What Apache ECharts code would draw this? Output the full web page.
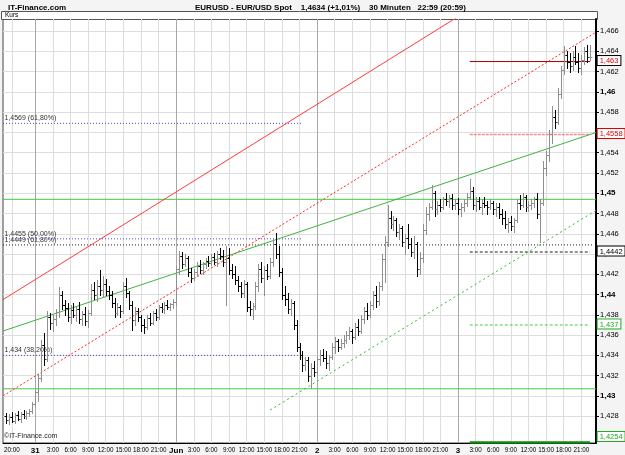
<!DOCTYPE html>
<html lang="de">
<head>
<meta charset="UTF-8">
<title>EURUSD 30 Minuten</title>
<script src="https://cdn.jsdelivr.net/npm/echarts@6/dist/echarts.min.js"></script>
<style>
    html, body { margin: 0; padding: 0; background: #f4f4f4; }
    #chart { width: 625px; height: 455px; }
</style>
</head>
<body>
<div id="chart"></div>
<script>
// 30-Minuten-Bars, Slot 0 = 30.05. 18:30, letzter Slot = 03.06. 23:30
var firstBar = 1;

var open = [
    1.4280,1.4276,1.4279,1.4275,1.4281,1.4277,1.4282,1.4280,1.4283,1.4285,
    1.4292,1.4304,1.4318,1.4350,1.4336,1.4378,1.4372,1.4376,1.4383,1.4400,
    1.4390,1.4387,1.4378,1.4385,1.4380,1.4386,1.4376,1.4381,1.4374,1.4382,
    1.4405,1.4400,1.4408,1.4405,1.4410,1.4404,1.4400,1.4392,1.4382,1.4388,
    1.4384,1.4408,1.4402,1.4390,1.4375,1.4384,1.4378,1.4370,1.4368,1.4377,
    1.4372,1.4382,1.4378,1.4388,1.4386,1.4390,1.4388,1.4391,1.4393,1.4425,
    1.4438,1.4430,1.4436,1.4422,1.4416,1.4422,1.4428,1.4424,1.4430,1.4433,
    1.4431,1.4437,1.4432,1.4440,1.4438,1.4432,1.4436,1.4424,1.4420,1.4414,
    1.4408,1.4402,1.4410,1.4388,1.4386,1.4389,1.4408,1.4425,1.4416,1.4424,
    1.4418,1.4432,1.4450,1.4440,1.4422,1.4400,1.4396,1.4386,1.4392,1.4370,
    1.4348,1.4340,1.4330,1.4335,1.4320,1.4328,1.4324,1.4336,1.4340,1.4337,
    1.4332,1.4338,1.4348,1.4354,1.4348,1.4352,1.4355,1.4360,1.4364,1.4358,
    1.4368,1.4364,1.4376,1.4384,1.4380,1.4390,1.4400,1.4394,1.4408,1.4435,
    1.4452,1.4476,1.4470,1.4474,1.4462,1.4466,1.4452,1.4456,1.4450,1.4442,
    1.4450,1.4425,1.4436,1.4464,1.4480,1.4486,1.4500,1.4484,1.4488,1.4486,
    1.4494,1.4492,1.4495,1.4488,1.4490,1.4484,1.4486,1.4490,1.4496,1.4502,
    1.4488,1.4492,1.4486,1.4490,1.4488,1.4486,1.4490,1.4484,1.4486,1.4480,
    1.4476,1.4470,1.4472,1.4468,1.4474,1.4490,1.4488,1.4496,1.4486,1.4488,
    1.4490,1.4494,1.4480,1.4490,1.4525,1.4538,1.4558,1.4575,1.4570,1.4598,
    1.4622,1.4636,1.4630,1.4626,1.4634,1.4630,1.4624,1.4632,1.4640,1.4634
];
var high = [
    1.4283,1.4282,1.4284,1.4283,1.4285,1.4284,1.4286,1.4285,1.4287,1.4294,
    1.4306,1.4322,1.4355,1.4362,1.4384,1.4382,1.4380,1.4386,1.4407,1.4404,
    1.4395,1.4392,1.4390,1.4392,1.4388,1.4393,1.4384,1.4388,1.4385,1.4410,
    1.4412,1.4414,1.4424,1.4418,1.4415,1.4408,1.4404,1.4397,1.4392,1.4390,
    1.4412,1.4416,1.4404,1.4394,1.4388,1.4387,1.4380,1.4376,1.4380,1.4382,
    1.4384,1.4386,1.4390,1.4392,1.4393,1.4395,1.4392,1.4396,1.4428,1.4443,
    1.4442,1.4440,1.4438,1.4426,1.4425,1.4432,1.4434,1.4432,1.4436,1.4438,
    1.4440,1.4441,1.4443,1.4446,1.4444,1.4448,1.4446,1.4430,1.4428,1.4418,
    1.4412,1.4414,1.4412,1.4394,1.4392,1.4412,1.4430,1.4432,1.4428,1.4430,
    1.4436,1.4455,1.4461,1.4448,1.4426,1.4408,1.4402,1.4396,1.4394,1.4375,
    1.4352,1.4344,1.4338,1.4338,1.4332,1.4334,1.4338,1.4345,1.4346,1.4344,
    1.4340,1.4352,1.4358,1.4356,1.4356,1.4360,1.4364,1.4368,1.4366,1.4372,
    1.4376,1.4380,1.4388,1.4392,1.4394,1.4404,1.4408,1.4412,1.4440,1.4458,
    1.4488,1.4482,1.4478,1.4476,1.4470,1.4468,1.4460,1.4470,1.4456,1.4458,
    1.4452,1.4442,1.4470,1.4486,1.4490,1.4508,1.4502,1.4492,1.4494,1.4496,
    1.4500,1.4498,1.4499,1.4494,1.4495,1.4490,1.4494,1.4500,1.4514,1.4506,
    1.4496,1.4496,1.4494,1.4496,1.4492,1.4494,1.4492,1.4490,1.4490,1.4484,
    1.4482,1.4476,1.4478,1.4476,1.4494,1.4498,1.4500,1.4498,1.4492,1.4494,
    1.4496,1.4500,1.4494,1.4532,1.4542,1.4562,1.4586,1.4582,1.4604,1.4626,
    1.4645,1.4640,1.4638,1.4640,1.4645,1.4638,1.4636,1.4644,1.4646,1.4646
];
var low = [
    1.4273,1.4272,1.4274,1.4273,1.4276,1.4274,1.4278,1.4277,1.4280,1.4283,
    1.4290,1.4295,1.4315,1.4330,1.4334,1.4366,1.4364,1.4370,1.4378,1.4386,
    1.4380,1.4374,1.4372,1.4378,1.4374,1.4372,1.4370,1.4370,1.4368,1.4380,
    1.4396,1.4394,1.4400,1.4398,1.4400,1.4396,1.4388,1.4378,1.4380,1.4378,
    1.4382,1.4398,1.4386,1.4365,1.4370,1.4374,1.4364,1.4362,1.4366,1.4370,
    1.4371,1.4375,1.4376,1.4383,1.4382,1.4386,1.4385,1.4387,1.4390,1.4420,
    1.4426,1.4428,1.4418,1.4412,1.4414,1.4418,1.4421,1.4420,1.4426,1.4428,
    1.4429,1.4430,1.4428,1.4435,1.4428,1.4390,1.4420,1.4416,1.4410,1.4404,
    1.4398,1.4398,1.4384,1.4380,1.4376,1.4386,1.4404,1.4412,1.4400,1.4415,
    1.4416,1.4428,1.4436,1.4418,1.4396,1.4390,1.4382,1.4380,1.4366,1.4344,
    1.4336,1.4325,1.4326,1.4315,1.4308,1.4320,1.4322,1.4330,1.4334,1.4328,
    1.4326,1.4336,1.4342,1.4344,1.4346,1.4348,1.4352,1.4356,1.4352,1.4356,
    1.4360,1.4362,1.4372,1.4376,1.4378,1.4386,1.4388,1.4390,1.4405,1.4412,
    1.4448,1.4466,1.4464,1.4458,1.4455,1.4448,1.4440,1.4446,1.4438,1.4436,
    1.4418,1.4420,1.4432,1.4460,1.4474,1.4484,1.4478,1.4480,1.4482,1.4484,
    1.4488,1.4486,1.4484,1.4484,1.4480,1.4478,1.4482,1.4487,1.4494,1.4484,
    1.4482,1.4484,1.4480,1.4486,1.4480,1.4484,1.4480,1.4478,1.4476,1.4470,
    1.4466,1.4462,1.4464,1.4462,1.4472,1.4484,1.4486,1.4482,1.4482,1.4484,
    1.4486,1.4476,1.4452,1.4488,1.4518,1.4532,1.4550,1.4564,1.4568,1.4594,
    1.4618,1.4624,1.4620,1.4622,1.4628,1.4620,1.4618,1.4628,1.4630,1.4632
];
var close = [
    1.4276,1.4279,1.4275,1.4281,1.4277,1.4282,1.4280,1.4283,1.4285,1.4292,
    1.4304,1.4318,1.4350,1.4336,1.4378,1.4372,1.4376,1.4383,1.4400,1.4390,
    1.4387,1.4378,1.4385,1.4380,1.4386,1.4376,1.4381,1.4374,1.4382,1.4405,
    1.4400,1.4408,1.4405,1.4410,1.4404,1.4400,1.4392,1.4382,1.4388,1.4384,
    1.4408,1.4402,1.4390,1.4375,1.4384,1.4378,1.4370,1.4368,1.4377,1.4372,
    1.4382,1.4378,1.4388,1.4386,1.4390,1.4388,1.4391,1.4393,1.4425,1.4438,
    1.4430,1.4436,1.4422,1.4416,1.4422,1.4428,1.4424,1.4430,1.4433,1.4431,
    1.4437,1.4432,1.4440,1.4438,1.4432,1.4436,1.4424,1.4420,1.4414,1.4408,
    1.4402,1.4410,1.4388,1.4386,1.4389,1.4408,1.4425,1.4416,1.4424,1.4418,
    1.4432,1.4450,1.4440,1.4422,1.4400,1.4396,1.4386,1.4392,1.4370,1.4348,
    1.4340,1.4330,1.4335,1.4320,1.4328,1.4324,1.4336,1.4340,1.4337,1.4332,
    1.4338,1.4348,1.4354,1.4348,1.4352,1.4355,1.4360,1.4364,1.4358,1.4368,
    1.4364,1.4376,1.4384,1.4380,1.4390,1.4400,1.4394,1.4408,1.4435,1.4452,
    1.4476,1.4470,1.4474,1.4462,1.4466,1.4452,1.4456,1.4450,1.4442,1.4450,
    1.4425,1.4436,1.4464,1.4480,1.4486,1.4500,1.4484,1.4488,1.4486,1.4494,
    1.4492,1.4495,1.4488,1.4490,1.4484,1.4486,1.4490,1.4496,1.4502,1.4488,
    1.4492,1.4486,1.4490,1.4488,1.4486,1.4490,1.4484,1.4486,1.4480,1.4476,
    1.4470,1.4472,1.4468,1.4474,1.4490,1.4488,1.4496,1.4486,1.4488,1.4490,
    1.4494,1.4480,1.4490,1.4525,1.4538,1.4558,1.4575,1.4570,1.4598,1.4622,
    1.4636,1.4630,1.4626,1.4634,1.4630,1.4624,1.4632,1.4640,1.4634,1.4634
];

// y-Achse
var yTicks = [1.428, 1.430, 1.432, 1.434, 1.436, 1.438, 1.440, 1.442, 1.444, 1.446,
              1.448, 1.450, 1.452, 1.454, 1.456, 1.458, 1.460, 1.462, 1.464, 1.466];

// Trendlinien [slot, kurs]
var redChannelTop = [[0, 1.4395], [202, 1.4759]];
var redChannelMid = [[0, 1.4300], [202, 1.4659]];
var greenTrend = [[0, 1.4364], [202, 1.4560]];
var greenChannelLow = [[91, 1.4286], [202, 1.4483]];

// horizontale Linien
var greenLevels = [1.4494, 1.4307];
var fibLevels = [
    {v: 1.4569, text: '1,4569 (61,80%)', end: 102, color: '#4848d8'},
    {v: 1.4455, text: '1,4455 (50,00%)', end: 102, color: '#4848d8'},
    {v: 1.4449, text: '1,4449 (61,80%)', end: 201, color: '#222222'},
    {v: 1.4340, text: '1,434 (38,20%)', end: 102, color: '#4848d8'}
];
var rightLevels = [
    {v: 1.4630, text: '1,463', line: '#a00000', type: 'solid', width: 1, textColor: '#e00000', box: '#000'},
    {v: 1.4558, text: '1,4558', line: '#ff8a8a', type: [3, 1], width: 1.5, textColor: '#e00000', box: '#e00000'},
    {v: 1.4442, text: '1,4442', line: '#222222', type: [3, 2], width: 1, textColor: '#000', box: '#000'},
    {v: 1.4370, text: '1,437', line: '#44cc44', type: [3, 2], width: 1, textColor: '#22aa22', box: '#22aa22'},
    {v: 1.4254, text: '1,4254', line: '#118811', type: 'solid', width: 2.5, textColor: '#22aa22', box: '#22aa22'}
];

// Zeitachse
var slots = [];
var t0 = new Date(2011, 4, 30, 18, 30).getTime();
for (var i = 0; i <= 202; i++) {
    var d = new Date(t0 + i * 30 * 60000);
    slots.push(d.getDate() + '.' + (d.getMonth() + 1) + ' ' + d.getHours() + ':' + (d.getMinutes() < 10 ? '0' : '') + d.getMinutes());
}
function showSlot(idx) {
    return idx === 3 || (idx >= 11 && (idx - 11) % 6 === 0);
}
var daySlots = [11, 59, 107, 155];

var bars = [];
for (var k = 0; k < close.length; k++) {
    bars.push([firstBar + k, open[k], high[k], low[k], close[k]]);
}

function renderOhlc(params, api) {
    var x = api.value(0);
    var o = api.coord([x, api.value(1)]);
    var h = api.coord([x, api.value(2)]);
    var l = api.coord([x, api.value(3)]);
    var c = api.coord([x, api.value(4)]);
    var col = api.value(4) >= api.value(1) ? '#8f8f8f' : '#000000';
    var cx = Math.round(h[0]) + 0.5;
    var oy = Math.round(o[1]) + 0.5, cy = Math.round(c[1]) + 0.5;
    var st = {stroke: col, lineWidth: 1};
    return {
        type: 'group',
        children: [
            {type: 'line', shape: {x1: cx, y1: Math.round(h[1]), x2: cx, y2: Math.round(l[1]) + 1}, style: st},
            {type: 'line', shape: {x1: cx - 2, y1: oy, x2: cx, y2: oy}, style: st},
            {type: 'line', shape: {x1: cx, y1: cy, x2: cx + 2, y2: cy}, style: st}
        ]
    };
}

function lineSeries(data, color, type, width) {
    return {
        type: 'line',
        data: data,
        showSymbol: false,
        silent: true,
        clip: true,
        animation: false,
        lineStyle: {color: color, width: width || 1, type: type},
        z: 3
    };
}

// horizontale Linie mit optionalem Text am ersten oder letzten Punkt
function levelSeries(x1, x2, v, color, type, width, label, atEnd) {
    var p1 = {value: [x1, v]}, p2 = {value: [x2, v]};
    if (label) {
        (atEnd ? p2 : p1).label = label;
    }
    var s = lineSeries([p1, p2], color, type, width);
    s.showSymbol = true;
    s.showAllSymbol = true;
    s.symbol = 'rect';
    s.symbolSize = 1;
    s.itemStyle = {color: 'rgba(0,0,0,0)', borderWidth: 0};
    s.label = {show: false};
    s.labelLayout = {hideOverlap: false};
    s.clip = false;
    s.z = 2;
    return s;
}

var levelList = [];
greenLevels.forEach(function (v) {
    levelList.push(levelSeries(0, 202, v, '#44cc44', 'solid', 1));
});
fibLevels.forEach(function (f) {
    levelList.push(levelSeries(0, f.end, f.v, f.color, [1, 2], 1,
        {show: true, position: [2, -8], formatter: f.text, color: '#333', fontSize: 7}, false));
});
rightLevels.forEach(function (r) {
    levelList.push(levelSeries(159, 200, r.v, r.line, r.type, r.width,
        {show: true, position: [8, r.v < 1.426 ? -10 : -5], formatter: r.text, color: r.textColor, fontSize: 7.5,
         backgroundColor: '#fff', borderColor: r.box, borderWidth: 1, padding: [1, 2, 0, 2]}, true));
});

var dayMarks = daySlots.map(function (s) {
    return {xAxis: slots[s]};
});

var chart = echarts.init(document.getElementById('chart'));
chart.setOption({
    animation: false,
    backgroundColor: '#f4f4f4',
    textStyle: {fontFamily: 'Arial, "Liberation Sans", sans-serif'},
    title: [
        {text: 'IT-Finance.com', left: 3, top: -1, textStyle: {fontSize: 8, fontWeight: 'bold', color: '#000'}},
        {text: 'EURUSD - EUR/USD Spot    1,4634 (+1,01%)    30 Minuten   22:59 (20:59)', left: 190, top: -1,
         textStyle: {fontSize: 8, fontWeight: 'bold', color: '#000'}}
    ],
    graphic: [
        {type: 'rect', shape: {x: 1.5, y: 11.5, width: 596, height: 8}, style: {fill: '#fff', stroke: '#555', lineWidth: 1}, z: 0},
        {type: 'text', left: 5, top: 12, style: {text: 'Kurs', fontSize: 6.5, fill: '#000'}},
        {type: 'text', left: 4, top: 433, style: {text: '©IT-Finance.com', fontSize: 7, fill: '#222'}, z: 10}
    ],
    grid: {
        left: 3, right: 29, top: 19, bottom: 12,
        show: true, backgroundColor: '#fff', borderColor: '#444', borderWidth: 1
    },
    xAxis: {
        type: 'category',
        data: slots,
        boundaryGap: false,
        axisLine: {lineStyle: {color: '#000', width: 1}},
        axisTick: {show: false},
        splitLine: {show: true, interval: function (idx) { return showSlot(idx); }, lineStyle: {color: '#dedede', width: 1}},
        axisLabel: {
            interval: function (idx) { return showSlot(idx); },
            hideOverlap: false,
            showMaxLabel: true,
            fontSize: 6.3, color: '#000', margin: 4,
            formatter: function (val, idx) {
                var parts = val.split(' ');
                if (parts[1] === '0:00') {
                    var day = parts[0].split('.');
                    return '{d|' + (day[0] === '1' ? 'Jun' : day[0]) + '}';
                }
                return parts[1];
            },
            rich: {d: {fontSize: 8, fontWeight: 'bold', color: '#000'}}
        }
    },
    yAxis: {
        type: 'value',
        position: 'right',
        min: 1.42535,
        max: 1.4672,
        axisLine: {show: true, lineStyle: {color: '#000', width: 2}},
        axisTick: {show: true, length: 3, customValues: yTicks, lineStyle: {color: '#000'}},
        splitLine: {show: true, lineStyle: {color: '#dedede', width: 1}},
        axisLabel: {
            customValues: yTicks,
            fontSize: 7.5, color: '#000', margin: 4,
            formatter: function (v) {
                var s = (+v.toFixed(4)).toString().replace('.', ',');
                var major = Math.abs(v * 100 - Math.round(v * 100)) < 1e-6;
                return major ? '{b|' + s + '}' : s;
            },
            rich: {b: {fontSize: 8, fontWeight: 'bold', color: '#000'}}
        }
    },
    series: [
        {
            type: 'custom',
            name: 'EURUSD',
            renderItem: renderOhlc,
            data: bars,
            encode: {x: 0, y: [1, 2, 3, 4]},
            clip: true,
            z: 4,
            markLine: {
                silent: true,
                symbol: ['none', 'none'],
                animation: false,
                label: {show: false},
                lineStyle: {color: '#a8a8a8', width: 1, type: 'solid'},
                data: dayMarks,
                z: 1
            }
        },
        lineSeries(redChannelTop, '#ff3b3b', 'solid'),
        lineSeries(redChannelMid, '#ff2a2a', [2, 2]),
        lineSeries(greenTrend, '#3fb43f', 'solid'),
        lineSeries(greenChannelLow, '#33bb33', [2, 3])
    ].concat(levelList)
});
</script>
</body>
</html>
